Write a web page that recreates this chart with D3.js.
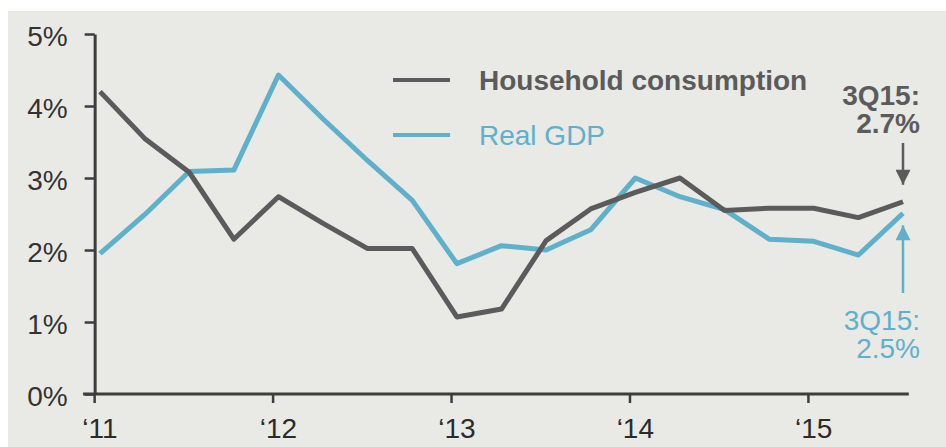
<!DOCTYPE html>
<html>
<head>
<meta charset="utf-8">
<script src="https://cdn.jsdelivr.net/npm/d3@7"></script>
<style>
  body { margin: 0; background: #fff; }
  svg text { font-family: "Liberation Sans", Arial, sans-serif; }
</style>
</head>
<body>
<div class="chart"></div>
<script>
// quarterly, 1Q11 .. 3Q15 (y/y % change)
const quarters = ['1Q11','2Q11','3Q11','4Q11','1Q12','2Q12','3Q12','4Q12','1Q13','2Q13','3Q13','4Q13',
                  '1Q14','2Q14','3Q14','4Q14','1Q15','2Q15','3Q15']
const household = [4.2, 3.55, 3.08, 2.15, 2.74, 2.37, 2.02, 2.02, 1.07, 1.18, 2.13, 2.57,
                   2.8, 3.0, 2.55, 2.58, 2.58, 2.45, 2.67]
const realGdp = [1.95, 2.49, 3.09, 3.11, 4.43, 3.82, 3.24, 2.69, 1.81, 2.06, 2.0, 2.28,
                 3.0, 2.74, 2.56, 2.15, 2.12, 1.93, 2.51]
const yTicks = [0, 1, 2, 3, 4, 5]
const yearLabels = ["\u201811", "\u201812", "\u201813", "\u201814", "\u201815"]

const grey = '#5b5b5b'
const blue = '#5fb0cb'
const axisColor = '#3d3d3d'

const width = 946, height = 447

const svg = d3.select('.chart')
  .append('svg')
  .attr('width', width)
  .attr('height', height)

// panel background (white strip top + left like the original crop)
svg.append('rect')
  .attr('x', 8).attr('y', 11)
  .attr('width', width - 8).attr('height', height - 11)
  .attr('fill', '#e9e9e5')

const x = d3.scaleLinear().domain([0, quarters.length - 1]).range([100, 903])
const y = d3.scaleLinear().domain([0, 5]).range([394, 34])

// y axis
const yAxis = svg.append('g')
  .attr('transform', `translate(${x(-0.12)},0)`)
  .call(d3.axisLeft(y).tickValues(yTicks).tickSize(10).tickSizeOuter(0).tickPadding(17)
    .tickFormat(d => d + '%'))
yAxis.select('.domain').attr('stroke', axisColor).attr('stroke-width', 3)
yAxis.selectAll('.tick line').attr('stroke', axisColor).attr('stroke-width', 2.5)
yAxis.selectAll('.tick text')
  .attr('font-size', 28).attr('fill', '#333').attr('dy', '0.4em')
  .style('font-family', '"Liberation Sans", Arial, sans-serif')

// x axis: ticks at year starts, labels under each Q1 point
const yearIdx = yearLabels.map((d, i) => i * 4)
svg.append('line')
  .attr('x1', x(-0.38)).attr('x2', x(18.13))
  .attr('y1', y(0)).attr('y2', y(0))
  .attr('stroke', axisColor).attr('stroke-width', 3)

svg.selectAll('.xtick')
  .data(yearIdx)
  .enter().append('line')
  .attr('class', 'xtick')
  .attr('x1', d => x(d - 0.12)).attr('x2', d => x(d - 0.12))
  .attr('y1', y(0)).attr('y2', y(0) + 9)
  .attr('stroke', axisColor).attr('stroke-width', 2.5)

svg.selectAll('.xlabel')
  .data(yearLabels)
  .enter().append('text')
  .attr('class', 'xlabel')
  .attr('x', (d, i) => x(yearIdx[i]))
  .attr('y', 438)
  .attr('text-anchor', 'middle')
  .attr('font-size', 28)
  .attr('fill', '#2b2b2b')
  .text(d => d)

// lines
const line = d3.line()
  .x((d, i) => x(i))
  .y(d => y(d))

svg.append('path')
  .datum(realGdp)
  .attr('d', line)
  .attr('fill', 'none')
  .attr('stroke', blue)
  .attr('stroke-width', 5)
  .attr('stroke-linejoin', 'round')

svg.append('path')
  .datum(household)
  .attr('d', line)
  .attr('fill', 'none')
  .attr('stroke', grey)
  .attr('stroke-width', 5)
  .attr('stroke-linejoin', 'round')

// legend
const legend = [
  { name: 'Household consumption', color: grey, weight: 'bold', y: 80 },
  { name: 'Real GDP', color: blue, weight: 'normal', y: 135 }
]
const lg = svg.selectAll('.legend')
  .data(legend)
  .enter().append('g')
  .attr('class', 'legend')
lg.append('line')
  .attr('x1', 393).attr('x2', 450)
  .attr('y1', d => d.y).attr('y2', d => d.y)
  .attr('stroke', d => d.color).attr('stroke-width', 4)
lg.append('text')
  .attr('x', 479).attr('y', d => d.y + 10)
  .attr('font-size', 28)
  .attr('font-weight', d => d.weight)
  .attr('fill', d => d.color)
  .text(d => d.name)

// 3Q15 callouts
const last = quarters.length - 1
const defs = svg.append('defs')
;[['headGrey', grey], ['headBlue', blue]].forEach(([id, c]) => {
  defs.append('marker')
    .attr('id', id)
    .attr('viewBox', '0 0 10 10')
    .attr('refX', 10).attr('refY', 5)
    .attr('markerWidth', 7).attr('markerHeight', 6)
    .attr('markerUnits', 'strokeWidth')
    .attr('orient', 'auto')
    .append('path')
    .attr('d', 'M0,0 L10,5 L0,10 Z')
    .attr('fill', c)
})

svg.append('line')
  .attr('x1', x(last)).attr('x2', x(last))
  .attr('y1', 143).attr('y2', y(household[last]) - 17)
  .attr('stroke', grey).attr('stroke-width', 2.5)
  .attr('marker-end', 'url(#headGrey)')

svg.append('line')
  .attr('x1', x(last)).attr('x2', x(last))
  .attr('y1', 293).attr('y2', y(realGdp[last]) + 12)
  .attr('stroke', blue).attr('stroke-width', 2.5)
  .attr('marker-end', 'url(#headBlue)')

const callout = (lines, color, weight, y0) => {
  svg.append('text')
    .attr('text-anchor', 'end')
    .attr('font-size', 28)
    .attr('font-weight', weight)
    .attr('fill', color)
    .selectAll('tspan')
    .data(lines)
    .enter().append('tspan')
    .attr('x', 920)
    .attr('y', (d, i) => y0 + i * 28)
    .text(d => d)
}
callout(['3Q15:', household[last].toFixed(1) + '%'], grey, 'bold', 105)
callout(['3Q15:', realGdp[last].toFixed(1) + '%'], blue, 'normal', 330)
</script>
</body>
</html>
